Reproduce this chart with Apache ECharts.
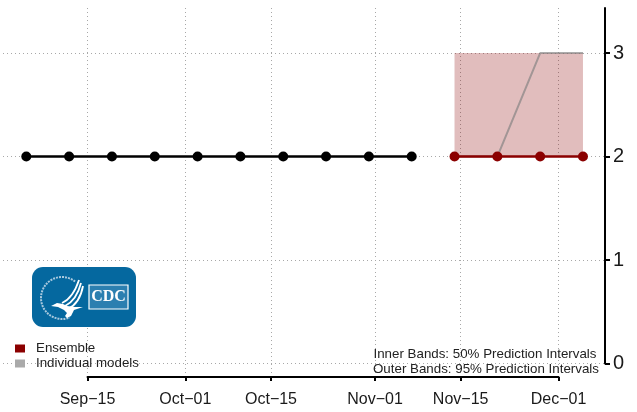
<!DOCTYPE html>
<html>
<head>
<meta charset="utf-8">
<style>html,body{margin:0;padding:0;background:#fff}#c{width:637px;height:412px}</style>
<script src="https://cdn.jsdelivr.net/npm/echarts@6/dist/echarts.min.js"></script>
</head>
<body>
<div id="c"></div>
<script>
const observedDates = ['2020-09-05','2020-09-12','2020-09-19','2020-09-26','2020-10-03','2020-10-10','2020-10-17','2020-10-24','2020-10-31','2020-11-07'];
const observedValues = [2,2,2,2,2,2,2,2,2,2];
const forecastDates = ['2020-11-14','2020-11-21','2020-11-28','2020-12-05'];
const ensembleValues = [2,2,2,2];
const modelValues = [2,2,3,3];
const outerLower = [2,2,2,2];
const outerUpper = [3,3,3,3];
const tickDates = ['2020-09-15','2020-10-01','2020-10-15','2020-11-01','2020-11-15','2020-12-01'];
const tickLabels = ['Sep\u221215','Oct\u221201','Oct\u221215','Nov\u221201','Nov\u221215','Dec\u221201'];
const yTicks = [0,1,2,3];
const FONT = '"Liberation Sans", Arial, sans-serif';
const ts = d => { const p = d.split('-').map(Number); return Date.UTC(p[0], p[1]-1, p[2]); };
const pairs = (dates, vals) => dates.map((d,i) => [ts(d), vals[i]]);
const DAY = 86400000;
const tickTs = tickDates.map(ts);
const dotted = {show:true, lineStyle:{color:'#a8a8a8', type:[1,3], width:1}};
const curve = (x1,y1,cx1,cy1,cx2,cy2,x2,y2) => ({type:'bezierCurve', z:22,
  shape:{x1,y1,cpx1:cx1,cpy1:cy1,cpx2:cx2,cpy2:cy2,x2,y2}, style:{fill:'none', stroke:'#fff', lineWidth:1.8}});
const bandData = forecastDates.map((d,i) => [ts(d), outerLower[i], outerUpper[i]]);

const chart = echarts.init(document.getElementById('c'), null, {renderer:'canvas'});
chart.setOption({
  animation:false,
  backgroundColor:'#fff',
  textStyle:{fontFamily:FONT},
  grid:[
    {left:3, right:32, top:8, bottom:48.5},
    {left:87.5, right:78.5, top:8, bottom:35}
  ],
  xAxis:[
    {type:'value', gridIndex:0, min:tickTs[0]-13.81*DAY, max:tickTs[0]+84.6*DAY, show:false, splitLine:{show:false}},
    {type:'value', gridIndex:1, min:tickTs[0], max:tickTs[5], position:'bottom',
      axisLine:{show:true, lineStyle:{color:'#000', width:2}},
      axisTick:{show:true, customValues:tickTs, length:4, lineStyle:{color:'#000', width:2}},
      axisLabel:{show:true, customValues:tickTs, margin:15, fontSize:16, color:'#1a1a1a', fontFamily:FONT,
        showMinLabel:true, showMaxLabel:true,
        formatter:v => tickLabels[tickTs.indexOf(v)]},
      splitLine:dotted}
  ],
  yAxis:[
    {type:'value', gridIndex:0, min:0, max:3.435, position:'right',
      axisLine:{show:true, lineStyle:{color:'#000', width:2}},
      axisTick:{show:true, customValues:yTicks, length:5, lineStyle:{color:'#000', width:2}},
      axisLabel:{customValues:yTicks, margin:8, fontSize:20, color:'#1a1a1a', fontFamily:FONT,
        formatter:v => String(v)},
      splitLine:dotted},
    {type:'value', gridIndex:1, show:false, min:0, max:1, splitLine:{show:false}}
  ],
  legend:{
    orient:'vertical', left:15, top:341, padding:0, itemWidth:10, itemHeight:8, itemGap:0,
    icon:'rect', selectedMode:false,
    textStyle:{fontSize:13.33, lineHeight:15, color:'#222', fontFamily:FONT, padding:[0,0,0,6]},
    data:[{name:'Ensemble', itemStyle:{color:'#8b0000', opacity:1}},{name:'Individual models', itemStyle:{color:'#aaaaaa', opacity:1}}]
  },
  series:[
    {name:'Outer band', type:'custom', data:bandData, xAxisIndex:0, yAxisIndex:0, z:2, silent:true,
      encode:{x:0, y:[1,2]},
      renderItem:(params, api) => {
        if (params.dataIndex !== 0) return null;
        const top = bandData.map(r => api.coord([r[0], r[2]]));
        const bot = bandData.map(r => api.coord([r[0], r[1]])).reverse();
        return {type:'polygon', shape:{points:top.concat(bot)}, style:{fill:'#8b0000', opacity:0.26}};
      }},
    {name:'Individual models', type:'line', data:pairs(forecastDates,modelValues), xAxisIndex:0, yAxisIndex:0, symbol:'none', lineStyle:{color:'#808080', width:2, opacity:0.65}, itemStyle:{color:'#aaaaaa'}, z:3},
    {name:'Observed', type:'line', data:pairs(observedDates,observedValues), xAxisIndex:0, yAxisIndex:0, symbol:'circle', symbolSize:10, lineStyle:{color:'#000', width:2.5}, itemStyle:{color:'#000'}, z:5},
    {name:'Ensemble', type:'line', data:pairs(forecastDates,ensembleValues), xAxisIndex:0, yAxisIndex:0, symbol:'circle', symbolSize:10, lineStyle:{color:'#8b0000', width:2.5}, itemStyle:{color:'#8b0000'}, z:5}
  ],
  graphic:[
    {type:'rect', z:20, shape:{x:32,y:267,width:104,height:60,r:11}, style:{fill:'#05689f'}},
    {type:'rect', z:21, shape:{x:89,y:285,width:39,height:24}, style:{fill:'#2b7fb0', stroke:'#fff', lineWidth:1.2}},
    {type:'text', z:22, x:108.5, y:297, style:{text:'CDC', fill:'#fff', font:'bold 16px "Liberation Serif", serif', align:'center', verticalAlign:'middle'}},
    {type:'arc', z:21, shape:{cx:62,cy:298,r:21,startAngle:-0.9,endAngle:1.2,clockwise:false}, style:{fill:'none', stroke:'#a9c9de', lineWidth:2, lineDash:[2,1]}},
    curve(79,280,75,292,69,300,62,303),
    curve(81,283,78,295,73,302,65,306),
    curve(83,286,81,297,76,305,68,309),
    {type:'polygon', z:22, shape:{points:[[51,306],[57,303],[63,304],[67,306],[75,307],[83,307],[74,310],[71,316],[67,318],[65,316],[67,313],[64,310],[58,307]]}, style:{fill:'#fff'}},
    {type:'text', z:30, x:373.5, y:354.5, style:{text:'Inner Bands: 50% Prediction Intervals', fill:'#222', font:'13.33px "Liberation Sans", Arial, sans-serif', align:'left', verticalAlign:'middle'}},
    {type:'text', z:30, x:373, y:369.5, style:{text:'Outer Bands: 95% Prediction Intervals', fill:'#222', font:'13.33px "Liberation Sans", Arial, sans-serif', align:'left', verticalAlign:'middle'}}
  ]
});
</script>
</body>
</html>
